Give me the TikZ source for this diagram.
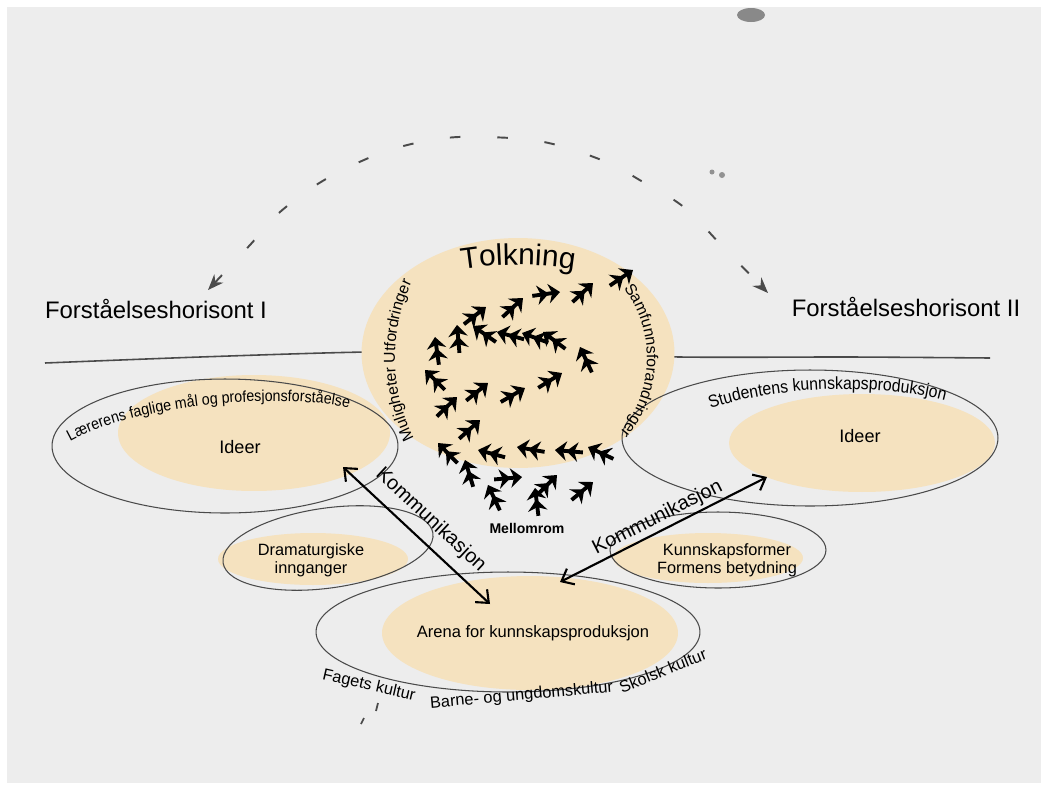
\documentclass[tikz,border=0pt]{standalone}
\usepackage{fontspec}
\setmainfont{Liberation Sans}
\newfontfamily\smalsf[FakeStretch=0.9]{Liberation Sans}
\usetikzlibrary{shapes.geometric,arrows.meta,decorations.text}
\definecolor{paper}{HTML}{EDEDED}
\definecolor{sand}{HTML}{F5E2BF}
\definecolor{strek}{HTML}{4A4A4A}
\begin{document}
\begin{tikzpicture}
    [%%%%%%%%%%%%%%%%%%%%%%%%%%%%%%
        x=0.02cm, y=-0.02cm,
        blob/.style={ellipse, fill=sand, inner sep=0pt},
        ring/.style={ellipse, draw=strek, line width=0.6pt, inner sep=0pt},
        horisont/.style={font=\fontsize{13.6}{16}\selectfont, anchor=base, inner sep=0pt},
        tekst/.style={font=\fontsize{9.3}{10.4}\selectfont, align=center, inner sep=0pt},
        ideer/.style={font=\fontsize{10.3}{12}\selectfont, anchor=base, inner sep=0pt},
        kultur/.style={font=\fontsize{9.3}{11}\selectfont, anchor=base, inner sep=0pt},
        komm/.style={line width=1.2pt, {Straight Barb[length=6pt,width=10pt]}-{Straight Barb[length=6pt,width=10pt]}},
        spor/.style={line width=2.2pt, -{Stealth[length=6.5pt,width=11pt,inset=2pt]Stealth[length=6.5pt,width=11pt,inset=2pt]}},
        bue/.style={draw=strek, line width=1.1pt, dash pattern=on 6pt off 21pt, {Stealth[length=9pt,width=7pt]}-{Stealth[length=9pt,width=7pt]}},
        buetekst/.style={decorate, decoration={text along path, text align=center, #1}},
    ]%%%%%%%%%%%%%%%%%%%%%%%%%%%%%%
\fill[white] (0,0) rectangle (1041,785);
\fill[paper] (7,7) rectangle (1041,783);
\fill[strek!65] (751,15) ellipse [x radius=14, y radius=7];
\fill[strek!60] (712,172) circle [radius=2.5];
\fill[strek!60] (722,175) circle [radius=3];
% horisontlinja
\draw[strek, line width=0.9pt] plot[smooth] coordinates {(45,363) (200,357) (367,352) (520,352) (680,357) (850,357) (990,358)};
% flater
\node[blob, minimum width=6.26cm, minimum height=4.6cm] (tolkning) at (518,353) {};
\node[blob, minimum width=5.44cm, minimum height=2.32cm] (ideerV) at (254,433) {};
\node[blob, minimum width=5.32cm, minimum height=1.96cm] (ideerH) at (862,443) {};
\node[blob, minimum width=5.92cm, minimum height=2.28cm] (arena) at (530,633) {};
\node[blob, minimum width=3.8cm, minimum height=1.04cm] (drama) at (313,559) {};
\node[blob, minimum width=3.8cm, minimum height=1.0cm] (kform) at (708,558) {};
% ringer
\node[ring, minimum width=6.92cm, minimum height=2.68cm] (ringV) at (225,446) {};
\node[ring, minimum width=7.52cm, minimum height=2.72cm] (ringH) at (810,438) {};
\node[ring, minimum width=7.68cm, minimum height=2.4cm] (ringA) at (508,632) {};
\node[ring, minimum width=4.24cm, minimum height=1.6cm, rotate=8] (ringD) at (328,548) {};
\node[ring, minimum width=4.32cm, minimum height=1.52cm] (ringK) at (718,550) {};
% bue mellom horisontene
\coordinate (hv) at (208,290);
\coordinate (hh) at (768,293);
\draw[bue] plot[smooth, tension=0.6] coordinates {(hv) (250,245) (280,212) (326,179) (384,152) (438,139) (485,137) (544,142) (604,161) (643,182) (685,208) (723,247) (hh)};
% tekster
\node[horisont] (horV) at (156,318) {Forståelseshorisont I};
\node[horisont] (horH) at (906,316) {Forståelseshorisont II};
\node[ideer] (ideerVtekst) at (240,453) {Ideer};
\node[ideer] (ideerHtekst) at (860,442) {Ideer};
\node[ideer, font=\fontsize{9.4}{11}\selectfont] (arenatekst) at (533,637) {Arena for kunnskapsproduksjon};
\node[tekst] (dramatekst) at (311,560) {Dramaturgiske\\innganger};
\node[tekst] (kformtekst) at (727,560) {Kunnskapsformer\\Formens betydning};
\node[font=\bfseries\fontsize{8}{9}\selectfont, inner sep=0pt] (mellomrom) at (527,528) {Mellomrom};
\node[kultur, rotate=-13] (fag) at (368,690) {Fagets kultur};
\node[kultur, rotate=5] (barne) at (522,700) {Barne- og ungdomskultur};
\node[kultur, rotate=22] (skolsk) at (665,676) {Skolsk kultur};
\draw[strek, line width=1pt] (378,703) -- (376,711) (364,718) -- (361,724);
% buede tekster
\path[buetekst={text={|\fontsize{17}{20}\selectfont|Tolkning}}] ([shift={(250:360)}]518,625) arc[start angle=250, end angle=290, radius=360];
\path[buetekst={text={|\fontsize{9}{10}\selectfont|Muligheter Utfordringer}}] ([shift={(140:123 and 150)}]518,358) arc[start angle=140, end angle=218, x radius=123, y radius=150];
\path[buetekst={text={|\fontsize{9}{10}\selectfont|Samfunnsforandringer}}] ([shift={(-38:129 and 122)}]518,358) arc[start angle=-38, end angle=41, x radius=129, y radius=122];
\path[buetekst={text={|\smalsf\fontsize{9}{10}\selectfont|Lærerens faglige mål og profesjonsforståelse}}] (62,446) .. controls (125,405) and (285,390) .. (358,410);
\path[buetekst={text={|\smalsf\fontsize{10}{12}\selectfont|Studentens kunnskapsproduksjon}}] (698,414) .. controls (760,386) and (885,380) .. (958,404);
% kommunikasjon
\coordinate (kv1) at (343,467);
\coordinate (kv2) at (490,604);
\coordinate (kh1) at (560,582);
\coordinate (kh2) at (767,477);
\draw[komm] (kv1) -- node[sloped, above, inner sep=6pt, font=\fontsize{11.4}{13}\selectfont] (kommV) {Kommunikasjon} (kv2);
\draw[komm] (kh1) -- node[sloped, above, inner sep=1.5pt, font=\fontsize{11.4}{13}\selectfont] (kommH) {Kommunikasjon} (kh2);
% spor i tolkningsrommet
\foreach \x/\y/\a in {486/307/38, 523/298/43, 560/292/8, 593/283/43, 633/270/34,
    435/337/98, 457/325/95, 473/326/145, 497/332/165, 522/333/160, 543/332/143, 580/347/115,
    425/370/135, 457/397/44, 488/383/39, 525/388/30, 562/373/32,
    480/420/42, 438/443/134, 478/450/165, 517/447/170, 555/450/175, 588/447/155,
    465/460/107, 522/477/5, 557/475/45, 593/482/40, 488/485/115, 535/488/97}
    \draw[spor] ([shift={({180-\a}:28)}]\x,\y) -- (\x,\y);
\end{tikzpicture}
\end{document}
